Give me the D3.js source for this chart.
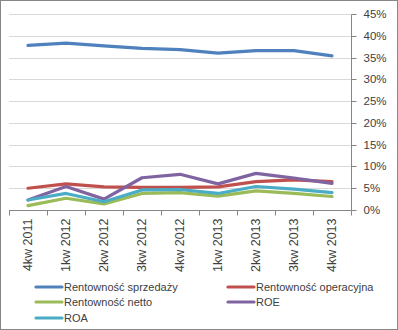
<!DOCTYPE html>
<html><head><meta charset="utf-8">
<script src="https://cdn.jsdelivr.net/npm/d3@7"></script>
<style>body{margin:0;background:#fff}svg{display:block}</style>
</head><body>
<script>
const categories = ["4kw 2011","1kw 2012","2kw 2012","3kw 2012","4kw 2012","1kw 2013","2kw 2013","3kw 2013","4kw 2013"];
const sprzedazy  = [37.8, 38.3, 37.7, 37.1, 36.8, 36.0, 36.6, 36.6, 35.4];
const operacyjna = [5.0, 6.0, 5.3, 5.2, 5.2, 5.3, 6.5, 6.9, 6.5];
const netto      = [1.0, 2.7, 1.4, 3.8, 4.0, 3.2, 4.4, 3.8, 3.1];
const roe        = [2.3, 5.4, 2.5, 7.4, 8.2, 6.0, 8.4, 7.3, 6.1];
const roa        = [2.3, 3.8, 1.9, 4.6, 4.7, 3.8, 5.4, 4.8, 4.0];
const yTicks = [0,5,10,15,20,25,30,35,40,45];
const seriesNames = ["Rentowność sprzedaży","Rentowność operacyjna","Rentowność netto","ROE","ROA"];
const seriesData = [sprzedazy, operacyjna, netto, roe, roa];
const colors = ["#4F81BD","#C0504D","#9BBB59","#8064A2","#4BACC6"];

(function(){
const W=398,H=330;
const svg=d3.select("body").append("svg").attr("width",W).attr("height",H);
svg.append("rect").attr("x",0.5).attr("y",0.5).attr("width",W-1).attr("height",H-1).attr("fill","#fff").attr("stroke","#868686");

const pL=9,pR=351,pT=14,pB=210;
const x=d3.scaleBand().domain(categories).range([pL,pR]);
const y=d3.scaleLinear().domain([0,45]).range([pB,pT]);
const font="Liberation Sans, Arial, sans-serif";

// gridlines
svg.append("g").selectAll("line").data(yTicks.filter(t=>t>0)).join("line")
  .attr("x1",pL).attr("x2",pR).attr("y1",d=>Math.round(y(d))+0.5).attr("y2",d=>Math.round(y(d))+0.5)
  .attr("stroke","#d9d9d9");

// right axis
const ya=svg.append("g").attr("transform",`translate(${pR+0.5},0.5)`)
  .call(d3.axisRight(y).tickValues(yTicks).tickSize(5).tickPadding(7).tickFormat(d=>d+"%"));
ya.select(".domain").attr("stroke","#868686").attr("d",`M0,${Math.round(y(45))}V${Math.round(y(0))}`);
ya.selectAll(".tick line").attr("stroke","#868686");
ya.selectAll(".tick").attr("transform",d=>`translate(0,${Math.round(y(d))})`);
ya.selectAll("text").attr("font-family",font).attr("font-size",11.5).attr("fill","#404040");

// bottom axis
const xa=svg.append("g").attr("transform",`translate(0,${pB+0.5})`);
xa.append("line").attr("x1",pL).attr("x2",pR).attr("stroke","#868686");
const bounds=categories.map(c=>x(c)).concat([pR]);
xa.selectAll(".tk").data(bounds).join("line").attr("class","tk")
  .attr("x1",d=>Math.round(d)+0.5).attr("x2",d=>Math.round(d)+0.5).attr("y1",0).attr("y2",5).attr("stroke","#868686");
xa.selectAll("text").data(categories).join("text")
  .attr("transform",d=>`translate(${x(d)+x.bandwidth()/2+4},8) rotate(-90)`)
  .attr("text-anchor","end").attr("font-family",font).attr("font-size",12.5).attr("fill","#404040").text(d=>d);

// lines
const line=d3.line().x((d,i)=>x(categories[i])+x.bandwidth()/2).y(d=>y(d));
svg.append("g").selectAll("path").data(seriesData).join("path")
  .attr("d",line).attr("fill","none").attr("stroke",(d,i)=>colors[i]).attr("stroke-width",3.2)
  .attr("stroke-linejoin","round").attr("stroke-linecap","round");

// legend
const legPos=[[36,287],[228,287],[36,302],[228,302],[36,318]];
const lg=svg.append("g").selectAll("g").data(seriesNames).join("g")
  .attr("transform",(d,i)=>`translate(${legPos[i][0]},${legPos[i][1]})`);
lg.append("line").attr("x1",0).attr("x2",26).attr("stroke",(d,i)=>colors[i]).attr("stroke-width",3.2).attr("stroke-linecap","round");
lg.append("text").attr("x",28).attr("dy","0.35em").attr("font-family",font).attr("font-size",11).attr("fill","#404040").text(d=>d);
})();
</script>
</body></html>
